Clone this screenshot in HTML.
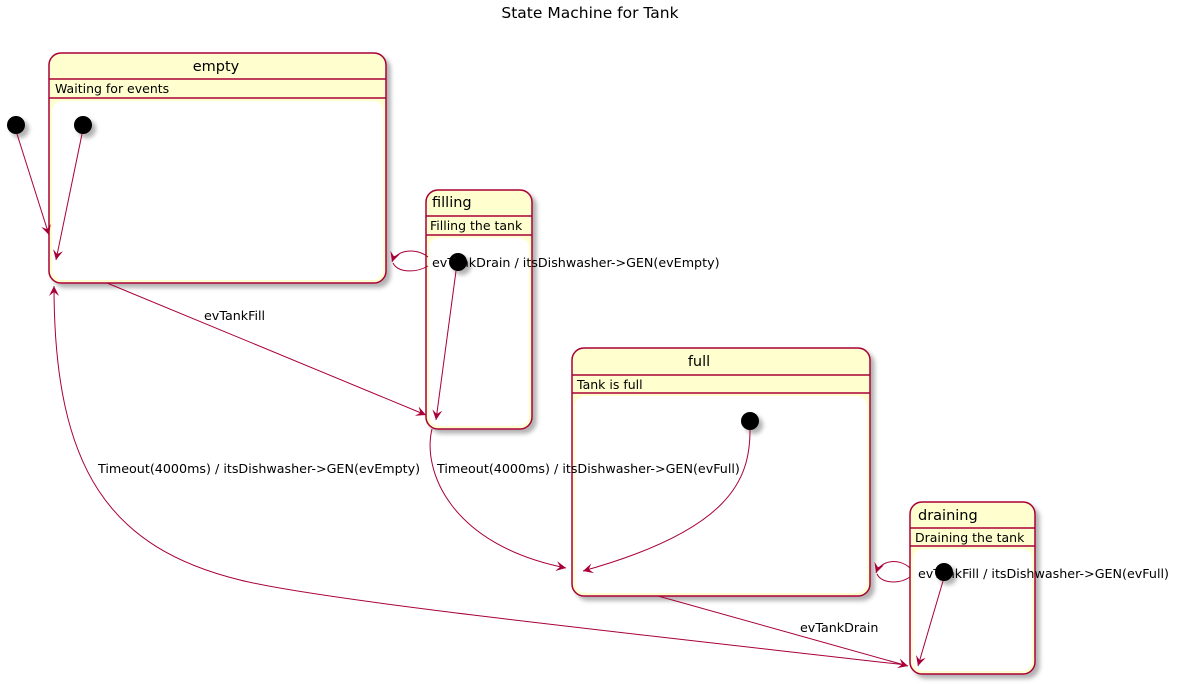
<!DOCTYPE html>
<html><head><meta charset="utf-8"><style>body{margin:0;background:#fff}svg{display:block}text{font-family:"DejaVu Sans","Liberation Sans",sans-serif;fill:#000}</style></head><body>
<svg width="1179" height="684" viewBox="0 0 1179 684" xmlns="http://www.w3.org/2000/svg">
<defs>
<filter id="sh" x="-10%" y="-10%" width="130%" height="130%"><feDropShadow dx="4" dy="4" stdDeviation="2" flood-color="#000" flood-opacity="0.3"/></filter>
<marker id="ah" markerWidth="12" markerHeight="12" refX="10" refY="5" orient="auto" markerUnits="userSpaceOnUse"><path d="M0,0 L10,5 L0,10 L4,5 Z" fill="#A80036"/></marker>
</defs>
<text x="590" y="18" font-size="15.5" text-anchor="middle">State Machine for Tank</text>
<g stroke="#A80036" stroke-width="1.5">
<rect x="49" y="53" width="337" height="230" rx="12" fill="#FEFECE" filter="url(#sh)"/>
<line x1="49" y1="79" x2="386" y2="79"/><line x1="49" y1="98" x2="386" y2="98"/>
<rect x="52" y="101" width="331" height="179" rx="10" fill="#fff" stroke="none"/>
<rect x="426" y="190" width="106" height="239" rx="12" fill="#FEFECE" filter="url(#sh)"/>
<line x1="426" y1="216" x2="532" y2="216"/><line x1="426" y1="235" x2="532" y2="235"/>
<rect x="429" y="238" width="100" height="188" rx="10" fill="#fff" stroke="none"/>
<rect x="572" y="348" width="298" height="248" rx="12" fill="#FEFECE" filter="url(#sh)"/>
<line x1="572" y1="375" x2="870" y2="375"/><line x1="572" y1="393" x2="870" y2="393"/>
<rect x="575" y="396" width="292" height="197" rx="10" fill="#fff" stroke="none"/>
<rect x="910" y="502" width="125" height="172" rx="12" fill="#FEFECE" filter="url(#sh)"/>
<line x1="910" y1="528" x2="1035" y2="528"/><line x1="910" y1="546" x2="1035" y2="546"/>
<rect x="913" y="549" width="119" height="122" rx="10" fill="#fff" stroke="none"/>
</g>
<g>
<text x="216" y="71" font-size="14.5" text-anchor="middle">empty</text>
<text x="55" y="93" font-size="12.5">Waiting for events</text>
<text x="432" y="207" font-size="14.5">filling</text>
<text x="430" y="230" font-size="12.5">Filling the tank</text>
<text x="699" y="366" font-size="14.5" text-anchor="middle">full</text>
<text x="577" y="389" font-size="12.5">Tank is full</text>
<text x="918" y="520" font-size="14.5">draining</text>
<text x="915" y="542" font-size="12.5">Draining the tank</text>
</g>
<g fill="#000" filter="url(#sh)">
<circle cx="16" cy="125" r="9"/><circle cx="83" cy="125" r="9"/>
<circle cx="458" cy="262" r="9"/><circle cx="750" cy="421" r="9"/><circle cx="944" cy="572" r="9"/>
</g>
<g stroke="#A80036" stroke-width="1" fill="none">
<path d="M393,263 C398,273 416,273 428,266"/>
<path d="M877,574 C882,584 900,584 910,577"/>
</g>
<g stroke="#A80036" stroke-width="1" fill="none" marker-end="url(#ah)">
<path d="M17,134 L49,235"/>
<path d="M82,134 L56,260"/>
<path d="M456,271 L436,420"/>
<path d="M750,430 C750,480 730,530 583,571"/>
<path d="M943,581 L918,666"/>
<path d="M428,257 C416,247 396,250 392,262"/>
<path d="M910,568 C898,557 880,561 876,573"/>
<path d="M107,283 L426,415"/>
<path d="M432,429 C422,470 450,545 566,568"/>
<path d="M658,596 L908,666"/>
<path d="M906,665 C600,630 320,600 240,580 C110,548 54,470 54,286"/>
</g>
<g font-size="12.7">
<text x="432" y="267">evTankDrain / itsDishwasher-&gt;GEN(evEmpty)</text>
<text x="918" y="578">evTankFill / itsDishwasher-&gt;GEN(evFull)</text>
<text x="204" y="320">evTankFill</text>
<text x="437" y="473">Timeout(4000ms) / itsDishwasher-&gt;GEN(evFull)</text>
<text x="98" y="473">Timeout(4000ms) / itsDishwasher-&gt;GEN(evEmpty)</text>
<text x="800" y="632">evTankDrain</text>
</g>
</svg>
</body></html>
